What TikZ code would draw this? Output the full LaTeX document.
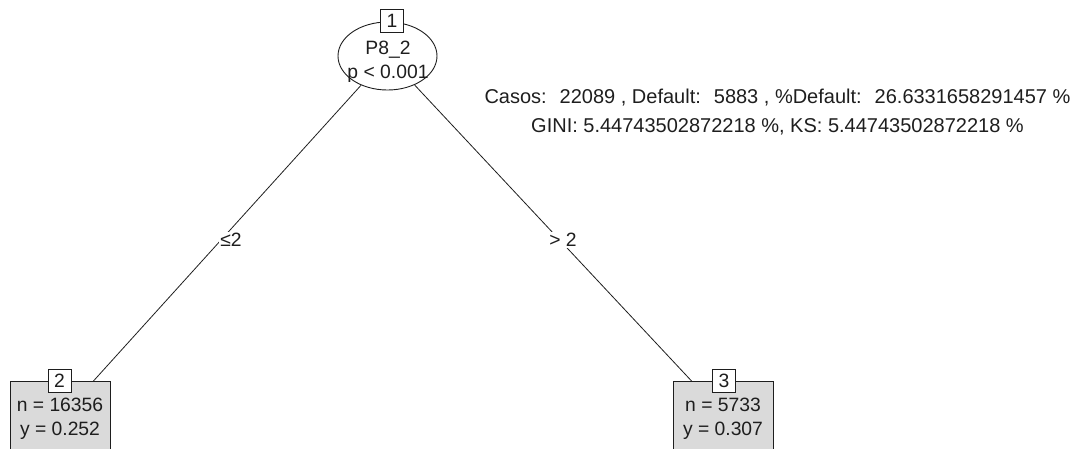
\documentclass[tikz,border=0pt]{standalone}
\usepackage{fontspec}
\setmainfont{Liberation Sans}
\usetikzlibrary{shapes.geometric,calc}
\definecolor{inkgray}{HTML}{1E1E1E}
\definecolor{leafgray}{HTML}{DADADA}
\begin{document}
\begin{tikzpicture}[x=1pt,y=-1pt,
  every node/.style={font=\fontsize{19.3}{24}\selectfont, text=inkgray},
  inner/.style={draw=inkgray, line width=0.9pt, ellipse, minimum width=99pt, minimum height=68pt, inner sep=0pt},
  leaf/.style={draw=inkgray, line width=0.9pt, fill=leafgray, rectangle, minimum width=100pt, minimum height=74pt, anchor=north, inner sep=0pt},
  idbox/.style={draw=inkgray, line width=0.9pt, fill=white, rectangle, minimum width=23pt, minimum height=23pt, inner sep=0pt},
  txt/.style={align=center, inner sep=0pt},
  edge/.style={draw=inkgray, line width=0.8pt},
  elabel/.style={fill=white, inner sep=1.5pt}
]
\useasboundingbox (0,0) rectangle (1079,448);

% inner node 1
\node[inner] (n1) at (387.5,56) {};
\node[txt] (t1) at (388,62) {P8\_2\\p < 0.001};

% terminal nodes
\node[leaf] (n2) at (60,381) {};
\node[txt] (t2) at (60,419) {n = 16356\\y = 0.252};
\node[leaf] (n3) at (723,381) {};
\node[txt] (t3) at (723,419) {n = 5733\\y = 0.307};

% split edges
\draw[edge] (n1) -- ([xshift=-17pt]n2.north east);
\draw[edge] (n1) -- ([xshift=19pt]n3.north west);
\node[elabel] (e2) at (231,240) {≤2};
\node[elabel] (e3) at (563,240) {> 2};

% node numbers
\node[idbox] (id1) at (392,20.5) {1};
\node[idbox] (id2) at (59.5,381) {2};
\node[idbox] (id3) at (724,381) {3};

% summary text
\node[txt, font=\fontsize{20}{29}\selectfont] (info) at (777.5,112) {Casos:~ 22089 , Default:~ 5883 , \%Default:~ 26.6331658291457 \%\\GINI: 5.44743502872218 \%, KS: 5.44743502872218 \%};
\end{tikzpicture}
\end{document}
